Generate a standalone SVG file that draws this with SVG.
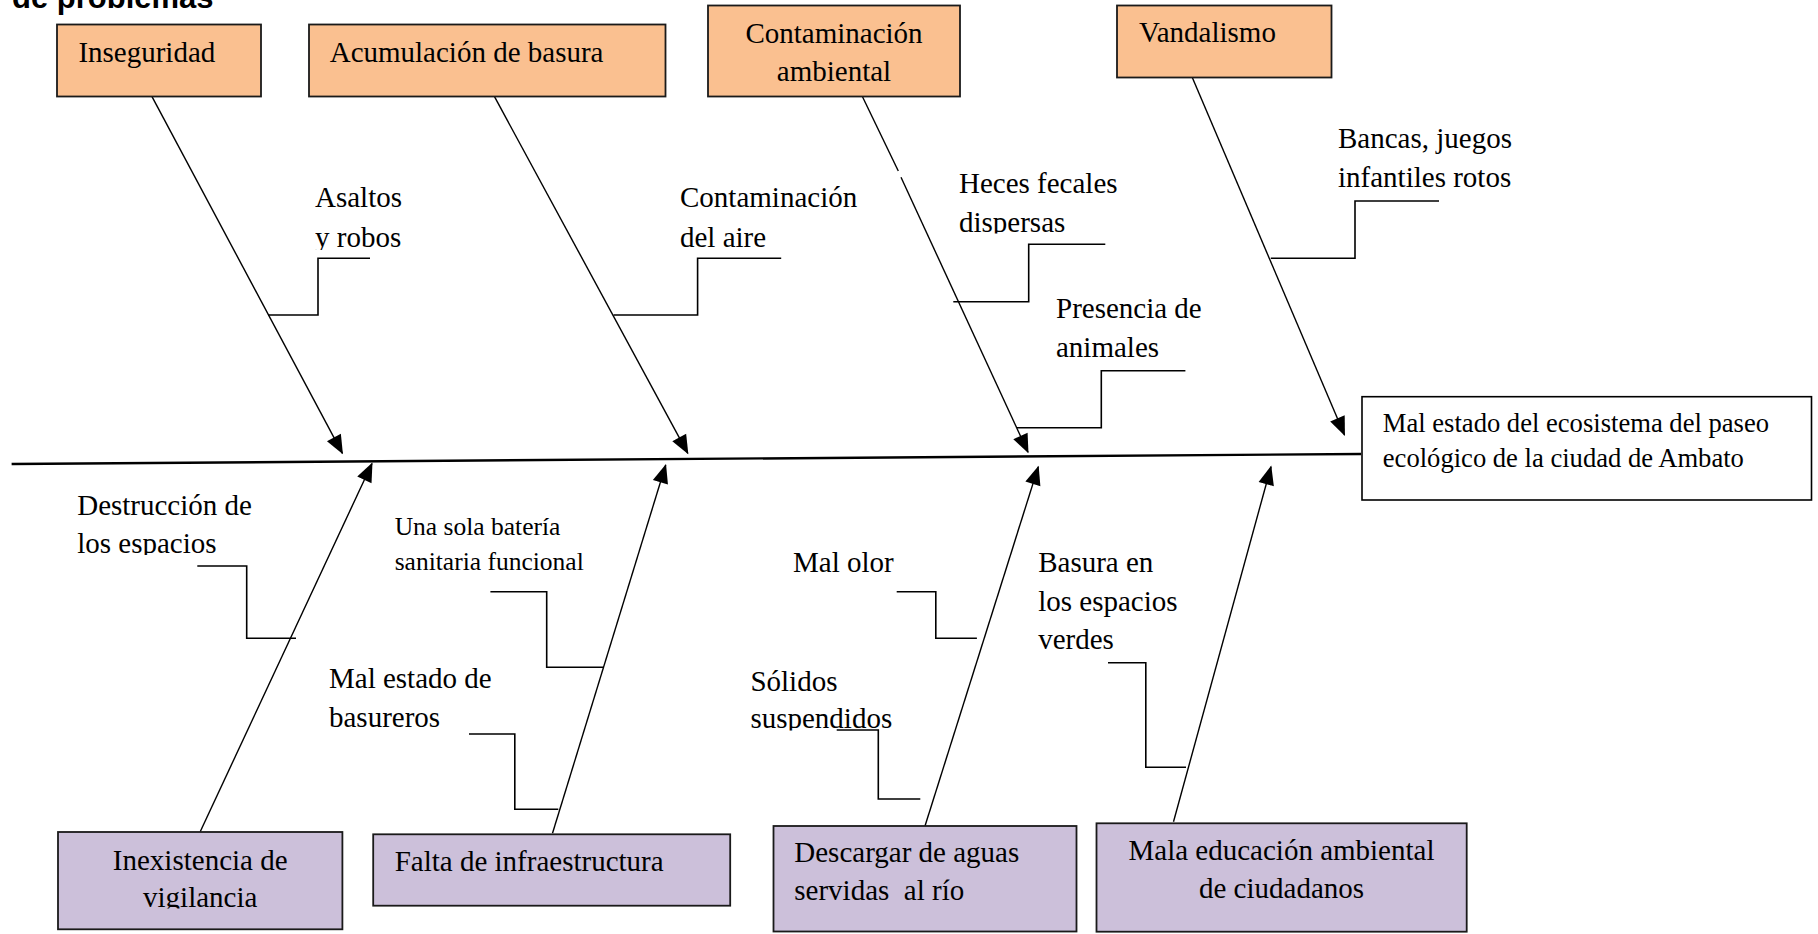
<svg xmlns="http://www.w3.org/2000/svg" width="1818" height="934" viewBox="0 0 1818 934">
<style>
text{font-family:"Liberation Serif","Times New Roman",serif;font-size:29px;fill:#000}
.title{font-family:"Liberation Sans",Arial,sans-serif;font-weight:bold;font-size:31px}
.sm{font-size:25.5px}
.eff{font-size:26.6px}
.mid{text-anchor:middle}
.cause{fill:#FAC090;stroke:#1a1a1a;stroke-width:1.8}
.sub{fill:#CCC0DA;stroke:#1a1a1a;stroke-width:1.8}
.effbox{fill:#fff;stroke:#000;stroke-width:1.6}
.bone{stroke:#000;stroke-width:1.4;fill:none}
.arr{marker-end:url(#ah)}
.br{stroke:#000;stroke-width:1.6;fill:none}
.spine{stroke:#000;stroke-width:2.4;fill:none}
</style>
<defs>
<marker id="ah" markerUnits="userSpaceOnUse" markerWidth="20" markerHeight="18" viewBox="0 -8 17 16" refX="16" refY="0" orient="auto">
<path d="M0,-7 L17,0 L0,7 z" fill="#000"/>
</marker>
<clipPath id="c1"><rect x="300" y="220" width="120" height="30"/></clipPath>
<clipPath id="c2"><rect x="950" y="200" width="160" height="33.5"/></clipPath>
<clipPath id="c3"><rect x="60" y="525" width="200" height="30"/></clipPath>
<clipPath id="c4"><rect x="740" y="700" width="180" height="30.5"/></clipPath>
<clipPath id="c5"><rect x="100" y="880" width="200" height="28.5"/></clipPath>
</defs>
<rect width="1818" height="934" fill="#fff"/>
<text class="title" x="12" y="7.5">de problemas</text>

<g id="connectors">
<path class="spine" d="M11.6,464 L1361,454"/>
<path class="bone arr" d="M152,96.7 L342.4,453.3"/>
<path class="bone arr" d="M494.5,96.7 L687.8,453.3"/>
<path class="bone" d="M862.5,96.7 L898.3,171"/>
<path class="bone arr" d="M901,177.3 L1028,452.3"/>
<path class="bone arr" d="M1192.4,77.7 L1344.5,435"/>
<path class="bone arr" d="M200.2,831.7 L372,463.5"/>
<path class="bone arr" d="M552.5,833.3 L665.7,465"/>
<path class="bone arr" d="M925,826 L1038.3,466.7"/>
<path class="bone arr" d="M1173.5,821.7 L1271,466.7"/>
<path class="br" d="M268,315 H318 V258.3 H370"/>
<path class="br" d="M613.5,315 H697.6 V258.3 H781.2"/>
<path class="br" d="M953.3,301.7 H1028.7 V244.3 H1105.3"/>
<path class="br" d="M1017,427.7 H1101.3 V370.7 H1185.4"/>
<path class="br" d="M1270.8,258.3 H1355 V201 H1439"/>
<path class="br" d="M197.3,566 H246.7 V638.3 H296"/>
<path class="br" d="M490.4,591.7 H546.7 V667.3 H603.6"/>
<path class="br" d="M469,734 H514.8 V809.3 H558.3"/>
<path class="br" d="M896.7,591.7 H935.8 V638.3 H976.9"/>
<path class="br" d="M836.7,730 H878.3 V799 H920.3"/>
<path class="br" d="M1108,662.7 H1145.8 V767.3 H1186"/>
</g>

<g id="inseguridad">
<rect class="cause" x="57" y="24.5" width="204" height="72"/>
<text x="78.4" y="62">Inseguridad</text>
</g>
<g id="acumulacion">
<rect class="cause" x="309" y="24.5" width="356.5" height="72"/>
<text x="329.7" y="62">Acumulación de basura</text>
</g>
<g id="contaminacion-ambiental">
<rect class="cause" x="708" y="5.5" width="252" height="91"/>
<text class="mid" x="834" y="42.7">Contaminación</text>
<text class="mid" x="834" y="81">ambiental</text>
</g>
<g id="vandalismo">
<rect class="cause" x="1117" y="5.5" width="214.5" height="72"/>
<text x="1139" y="41.7">Vandalismo</text>
</g>

<g id="efecto">
<rect class="effbox" x="1362" y="396.7" width="449.5" height="103.3"/>
<text class="eff" x="1382.8" y="431.7">Mal estado del ecosistema del paseo</text>
<text class="eff" x="1382.8" y="466.7">ecológico de la ciudad de Ambato</text>
</g>

<g id="asaltos">
<text x="315" y="207.3">Asaltos</text>
<text x="315" y="246.7" clip-path="url(#c1)">y robos</text>
</g>
<g id="contaminacion-aire">
<text x="680" y="207.3">Contaminación</text>
<text x="680" y="246.7">del aire</text>
</g>
<g id="heces">
<text x="959" y="193.3">Heces fecales</text>
<text x="959" y="231.7" clip-path="url(#c2)">dispersas</text>
</g>
<g id="animales">
<text x="1056" y="318.3">Presencia de</text>
<text x="1056" y="357.3">animales</text>
</g>
<g id="bancas">
<text x="1338" y="148.3">Bancas, juegos</text>
<text x="1338" y="186.7">infantiles rotos</text>
</g>
<g id="destruccion">
<text x="77.2" y="515">Destrucción de</text>
<text x="77.2" y="553.3" clip-path="url(#c3)">los espacios</text>
</g>
<g id="bateria">
<text class="sm" x="394.7" y="535">Una sola batería</text>
<text class="sm" x="394.7" y="570">sanitaria funcional</text>
</g>
<g id="basureros">
<text x="329" y="688.3">Mal estado de</text>
<text x="329" y="726.7">basureros</text>
</g>
<g id="mal-olor">
<text x="793" y="571.7">Mal olor</text>
</g>
<g id="solidos">
<text x="750.4" y="690.7">Sólidos</text>
<text x="750.4" y="728.3" clip-path="url(#c4)">suspendidos</text>
</g>
<g id="basura-verdes">
<text x="1038.2" y="571.7">Basura en</text>
<text x="1038.2" y="610.7">los espacios</text>
<text x="1038.2" y="649.3">verdes</text>
</g>

<g id="inexistencia">
<rect class="sub" x="58" y="832" width="284.4" height="97.3"/>
<text class="mid" x="200.2" y="870">Inexistencia de</text>
<text class="mid" x="200.2" y="906.7" clip-path="url(#c5)">vigilancia</text>
</g>
<g id="falta">
<rect class="sub" x="373.2" y="834.3" width="357" height="71.4"/>
<text x="394.7" y="871">Falta de infraestructura</text>
</g>
<g id="descargar">
<rect class="sub" x="773.5" y="826" width="303" height="105.5"/>
<text x="794.3" y="861.7">Descargar de aguas</text>
<text x="794.3" y="900" xml:space="preserve">servidas  al río</text>
</g>
<g id="mala-educacion">
<rect class="sub" x="1096.5" y="823.3" width="370.2" height="108.4"/>
<text class="mid" x="1281.5" y="860">Mala educación ambiental</text>
<text class="mid" x="1281.5" y="898.3">de ciudadanos</text>
</g>
</svg>
